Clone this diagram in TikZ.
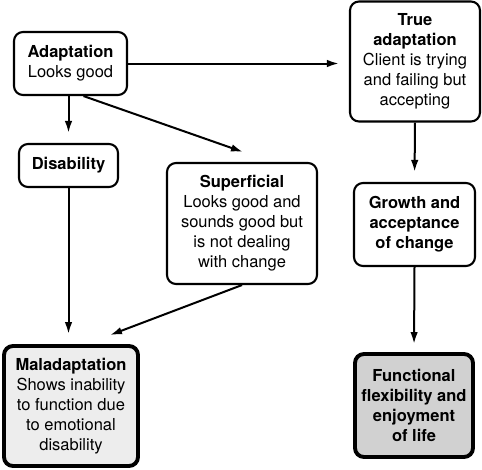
\documentclass[tikz,border=0pt]{standalone}
\usepackage{fontspec}
\setmainfont{TeX Gyre Heros}
\usetikzlibrary{arrows.meta,calc}
\tikzset{
  box/.style={draw, rounded corners=9pt, line width=2.1pt, align=center, inner sep=0pt, font=\fontsize{16.5}{20}\selectfont},
  thickbox/.style={box, line width=3.9pt},
  conn/.style={line width=2pt, -{Latex[length=12pt,width=7.5pt]}}
}
\begin{document}
\begin{tikzpicture}[x=1pt,y=-1pt]
\useasboundingbox (0,0) rectangle (482,469);
\node[box, minimum width=113pt, minimum height=63pt] (ad) at (70.5,63.5) {\textbf{Adaptation}\\Looks good};
\node[box, minimum width=99pt, minimum height=43pt] (dis) at (68.5,165.5) {\textbf{Disability}};
\node[box, minimum width=150pt, minimum height=121pt] (sup) at (242,223.5) {\textbf{Superficial}\\Looks good and\\sounds good but\\is not dealing\\with change};
\node[box, minimum width=130pt, minimum height=120pt] (ta) at (415,61.5) {\textbf{True}\\\textbf{adaptation}\\Client is trying\\and failing but\\accepting};
\node[box, minimum width=121pt, minimum height=83pt] (gr) at (414.5,224.5) {\textbf{Growth and}\\\textbf{acceptance}\\\textbf{of change}};
\node[thickbox, fill=black!7, minimum width=134pt, minimum height=120pt] (mal) at (71,406) {\textbf{Maladaptation}\\Shows inability\\to function due\\to emotional\\disability};
\node[thickbox, fill=black!18, minimum width=118pt, minimum height=103pt] (fun) at (414,405.5) {\textbf{Functional}\\\textbf{flexibility and}\\\textbf{enjoyment}\\\textbf{of life}};
\draw[conn, shorten >=10pt] (ad.east) -- (ad.east -| ta.west);
\draw[conn, shorten >=10pt] (dis.north |- ad.south) -- (dis.north);
\draw[conn] ($(ad.south)+(13,0)$) -- ($(sup.north)+(1,-10)$);
\draw[conn, shorten >=10pt] (ta.south) -- (gr.north);
\draw[conn, shorten >=10pt] (dis.south) -- (dis.south |- mal.north);
\draw[conn] (sup.south) -- ($(mal.north)+(39,-9)$);
\draw[conn, shorten >=8pt] (gr.south) -- (fun.north);
\end{tikzpicture}
\end{document}
